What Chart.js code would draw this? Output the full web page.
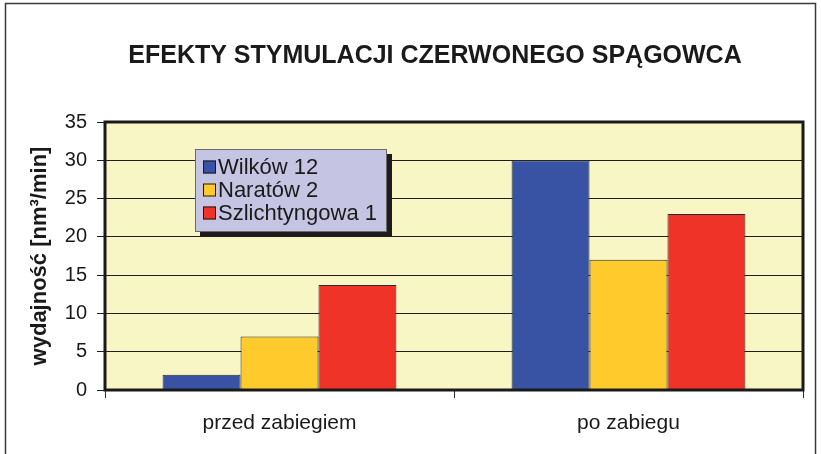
<!DOCTYPE html>
<html><head><meta charset="utf-8">
<script src="https://cdn.jsdelivr.net/npm/chart.js@4"></script>
<style>html,body{margin:0;padding:0;background:#fff}canvas{display:block}</style>
</head><body>
<canvas id="c" width="821" height="454"></canvas>
<script>
const chartTitle = 'EFEKTY STYMULACJI CZERWONEGO SPĄGOWCA';
const yAxisTitle = 'wydajność [nm³/min]';
const categories = ['przed zabiegiem', 'po zabiegu'];
const seriesNames = ['Wilków 12', 'Naratów 2', 'Szlichtyngowa 1'];
const wilkow12 = [2, 30];
const naratow2 = [7, 17];
const szlichtyngowa1 = [13.7, 23];
const yTickMin = 0, yTickMax = 35, yTickStep = 5;

const seriesColors = ['#3953a4', '#ffcb2c', '#ef3329'];
const FONT = '"Liberation Sans", Arial, sans-serif';

const decor = {
  id: 'decor',
  beforeDraw(chart) {
    const {ctx, chartArea: a} = chart;
    ctx.save();
    ctx.fillStyle = '#fff';
    ctx.fillRect(0, 0, chart.width, chart.height);
    ctx.strokeStyle = '#3a3a3a';
    ctx.lineWidth = 1.5;
    ctx.strokeRect(5.5, 3.5, 810, 460);
    ctx.fillStyle = '#f8f6c5';
    ctx.fillRect(a.left, a.top, a.right - a.left, a.bottom - a.top);
    ctx.restore();
  },
  afterDatasetsDraw(chart) {
    const {ctx, chartArea: a} = chart;
    ctx.save();
    ctx.strokeStyle = '#1a1a1a';
    ctx.lineWidth = 3;
    ctx.strokeRect(a.left, a.top, a.right - a.left, a.bottom - a.top);
    ctx.restore();
  },
  afterDraw(chart) {
    const {ctx, chartArea: a} = chart;
    ctx.save();
    ctx.fillStyle = '#1a1a1a';
    ctx.font = 'bold 25px ' + FONT;
    ctx.textAlign = 'center';
    ctx.textBaseline = 'middle';
    ctx.fillText(chartTitle, 435, 56);
    ctx.save();
    ctx.translate(40, (a.top + a.bottom) / 2);
    ctx.rotate(-Math.PI / 2);
    ctx.font = 'bold 22px ' + FONT;
    ctx.fillText(yAxisTitle, 0, 0);
    ctx.restore();
    const lx = 195, ly = 149, lw = 192, lh = 83;
    ctx.fillStyle = '#1c1c1c';
    ctx.fillRect(lx + 5, ly + 5, lw, lh);
    ctx.fillStyle = '#c5c5e3';
    ctx.fillRect(lx, ly, lw, lh);
    ctx.strokeStyle = '#6a6a6a';
    ctx.lineWidth = 1;
    ctx.strokeRect(lx + 0.5, ly + 0.5, lw - 1, lh - 1);
    ctx.font = '22px ' + FONT;
    ctx.textAlign = 'left';
    chart.data.datasets.forEach((ds, i) => {
      const cy = ly + 18 + i * 23;
      ctx.fillStyle = ds.backgroundColor;
      ctx.fillRect(203, cy - 6.5, 13, 13);
      ctx.strokeStyle = '#1a1a1a';
      ctx.strokeRect(203.5, cy - 6, 12, 12);
      ctx.fillStyle = '#1a1a1a';
      ctx.fillText(ds.label, 218, cy + 1);
    });
    ctx.restore();
  }
};

new Chart(document.getElementById('c'), {
  type: 'bar',
  data: {
    labels: categories,
    datasets: [wilkow12, naratow2, szlichtyngowa1].map((d, i) => ({
      label: seriesNames[i],
      data: d,
      backgroundColor: seriesColors[i],
      borderColor: '#2a2a2a',
      borderWidth: 1,
      barPercentage: 1,
      categoryPercentage: 0.67
    }))
  },
  options: {
    responsive: false,
    devicePixelRatio: 1,
    animation: false,
    layout: {padding: {left: 0, right: 18, top: 122, bottom: 0}},
    plugins: {legend: {display: false}, title: {display: false}, tooltip: {enabled: false}},
    scales: {
      x: {
        grid: {display: true, drawOnChartArea: false, drawTicks: true, tickLength: 8, color: '#2a2a2a', offset: true},
        border: {display: false},
        ticks: {color: '#1a1a1a', font: {family: FONT, size: 21}, padding: 13, maxRotation: 0},
        afterFit(s) { s.height = 64; }
      },
      y: {
        min: yTickMin, max: yTickMax,
        ticks: {stepSize: yTickStep, color: '#1a1a1a', font: {family: FONT, size: 20}, padding: 10},
        grid: {color: '#1e1e1e', lineWidth: 1, tickLength: 8, drawTicks: true},
        border: {display: false},
        afterFit(s) { s.width = 105; }
      }
    }
  },
  plugins: [decor]
});
</script>
</body></html>
